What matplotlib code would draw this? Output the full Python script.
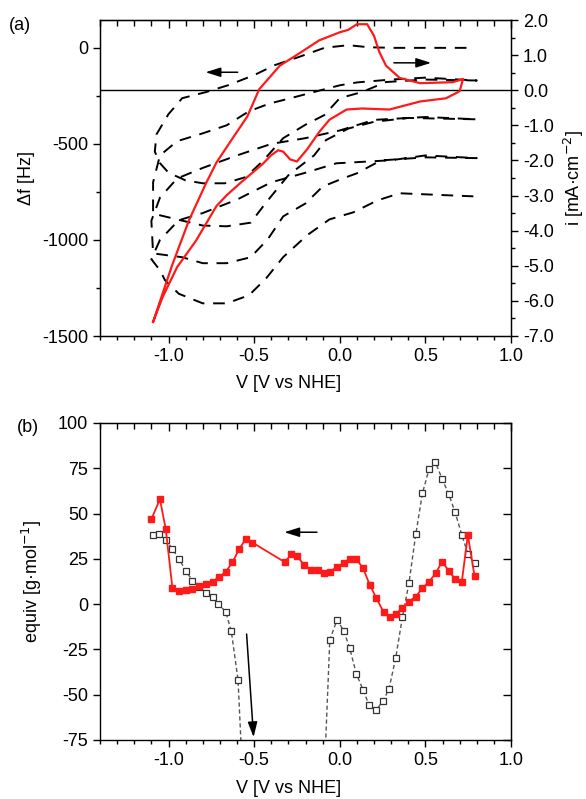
import matplotlib
matplotlib.use('Agg')
import matplotlib.pyplot as plt
from matplotlib.ticker import MultipleLocator, FormatStrFormatter

plt.rcParams['font.family'] = ['Liberation Sans', 'DejaVu Sans']
plt.rcParams['axes.unicode_minus'] = False
plt.rcParams['font.size'] = 13

# ---- panel (a): EQCM frequency change (dashed) over successive scans ----
# each scan: cathodic (upper) branch then anodic (lower) branch
up1_v = [0.74, 0.6, 0.45, 0.32, 0.17, 0.05, -0.09, -0.24, -0.38, -0.5, -0.65, -0.78, -0.92, -1.0, -1.07, -1.08]
up1_df = [0, 0, 0, 0, 3, 14, 0, -48, -90, -142, -194, -230, -262, -345, -450, -540]
lo1_v = [-1.08, -1.05, -1.0, -0.9, -0.8, -0.67, -0.55, -0.45, -0.33, -0.2, -0.09, 0.0, 0.13, 0.27, 0.5, 0.8]
lo1_df = [-540, -600, -650, -690, -705, -705, -673, -590, -470, -400, -350, -262, -230, -178, -165, -170]
up2_v = [0.8, 0.5, 0.3, 0.1, 0.0, -0.13, -0.27, -0.41, -0.53, -0.66, -0.8, -0.95, -1.05, -1.09]
up2_df = [-170, -155, -165, -180, -195, -225, -258, -290, -330, -403, -445, -486, -560, -700]
lo2_v = [-1.09, -1.09, -0.95, -0.8, -0.66, -0.52, -0.43, -0.3, -0.15, -0.08, 0.05, 0.2, 0.4, 0.8]
lo2_df = [-700, -863, -893, -925, -929, -910, -805, -663, -560, -480, -420, -385, -365, -372]
up3_v = [0.8, 0.5, 0.2, 0.0, -0.2, -0.4, -0.6, -0.8, -0.95, -1.05, -1.1]
up3_df = [-372, -360, -375, -430, -470, -500, -560, -625, -680, -780, -900]
lo3_v = [-1.1, -1.09, -0.92, -0.8, -0.66, -0.52, -0.42, -0.33, -0.2, -0.1, 0.02, 0.1, 0.24, 0.5, 0.8]
lo3_df = [-900, -1070, -1090, -1121, -1121, -1090, -996, -877, -810, -722, -679, -653, -586, -570, -574]
up4_v = [0.8, 0.5, 0.3, 0.08, -0.02, -0.2, -0.4, -0.6, -0.8, -0.94, -1.05, -1.1]
up4_df = [-574, -560, -585, -596, -601, -650, -700, -790, -860, -897, -1000, -1100]
lo4_v = [-1.1, -1.05, -1.02, -0.94, -0.8, -0.66, -0.53, -0.43, -0.33, -0.19, -0.06, 0.08, 0.22, 0.35, 0.78]
lo4_df = [-1100, -1158, -1210, -1280, -1330, -1330, -1288, -1200, -1089, -975, -893, -856, -794, -757, -773]

# cyclic voltammogram (red, right axis)
cv_v = [-1.09, -0.98, -0.88, -0.78, -0.72, -0.63, -0.54, -0.47, -0.35, -0.23, -0.12, 0.0, 0.05,
        0.1, 0.16, 0.2, 0.23, 0.27, 0.35, 0.47, 0.66, 0.72,
        0.7, 0.62, 0.47, 0.29, 0.13, 0.04, -0.06, -0.12, -0.19, -0.25, -0.29, -0.33, -0.36,
        -0.4, -0.45, -0.51, -0.58, -0.66, -0.72, -0.84, -0.95, -1.035, -1.09]
cv_i = [-6.6, -5.0, -3.7, -2.64, -2.06, -1.4, -0.75, 0.03, 0.7, 1.07, 1.42, 1.65, 1.72,
        1.88, 1.88, 1.55, 1.1, 0.7, 0.35, 0.2, 0.23, 0.32,
        -0.03, -0.23, -0.32, -0.55, -0.52, -0.55, -0.84, -1.19, -1.68, -2.03, -1.97, -1.75, -1.71,
        -1.85, -2.1, -2.35, -2.64, -2.99, -3.3, -4.29, -5.04, -5.9, -6.6]

# ---- panel (b): equivalent mass ----
red_v = [-1.10, -1.05, -1.016, -0.977, -0.938, -0.899, -0.86, -0.82, -0.782, -0.743, -0.704, -0.665,
         -0.627, -0.588, -0.549, -0.510, -0.321, -0.282, -0.25, -0.21, -0.166, -0.127, -0.093,
         -0.058, -0.016, 0.023, 0.058, 0.097, 0.136, 0.175, 0.214, 0.257, 0.292, 0.327, 0.366,
         0.404, 0.444, 0.483, 0.522, 0.561, 0.597, 0.636, 0.674, 0.713, 0.748, 0.787]
red_eq = [46.9, 57.9, 41.4, 8.8, 7.3, 7.7, 8.3, 10.0, 11.2, 12.5, 14.9, 18.0,
          23.0, 30.3, 35.9, 34.0, 23.2, 27.6, 26.8, 21.7, 18.9, 18.9, 17.4,
          18.0, 20.4, 22.6, 24.8, 24.8, 19.9, 10.7, 3.3, -4.6, -7.2, -5.4, -2.2,
          1.4, 4.2, 8.8, 12.5, 17.1, 23.5, 18.5, 13.8, 12.5, 38.2, 15.6]
open_v = [-1.09, -1.055, -1.016, -0.977, -0.938, -0.899, -0.86, -0.82, -0.782, -0.743, -0.71,
          -0.666, -0.633, -0.594, -0.555, -0.097, -0.058, -0.016, 0.023, 0.058, 0.097, 0.136,
          0.171, 0.214, 0.253, 0.288, 0.327, 0.366, 0.404, 0.444, 0.483, 0.522, 0.559, 0.597,
          0.636, 0.674, 0.713, 0.748, 0.787]
open_eq = [38.2, 38.6, 35.5, 30.5, 24.8, 18.4, 13.0, 9.4, 6.4, 4.2, 0.2,
           -4.2, -15.1, -41.8, -120, -110, -19.7, -8.7, -14.6, -24.3, -38.5, -47.3,
           -55.6, -58.3, -53.4, -46.7, -29.5, -7.2, 11.6, 38.6, 61.3, 74.7, 78.2, 69.3,
           60.9, 50.6, 38.2, 27.8, 22.6]

W, H = 586, 799
fig = plt.figure(figsize=(W / 100, H / 100), dpi=100)
axa = fig.add_axes([100 / W, 1 - 336 / H, 411 / W, 316 / H])
axb = fig.add_axes([100 / W, 1 - 740 / H, 411 / W, 317 / H])

for ax in (axa, axb):
    for s in ax.spines.values():
        s.set_linewidth(1.0)
    ax.tick_params(which='major', direction='out', length=5, width=1.0)
    ax.tick_params(which='minor', direction='out', length=3, width=1.0)
    ax.set_xlim(-1.4, 1.0)
    ax.xaxis.set_major_locator(MultipleLocator(0.5))
    ax.xaxis.set_minor_locator(MultipleLocator(0.1))
    ax.xaxis.set_major_formatter(FormatStrFormatter('%.1f'))
    top = ax.secondary_xaxis('top')
    top.xaxis.set_major_locator(MultipleLocator(0.5))
    top.xaxis.set_minor_locator(MultipleLocator(0.1))
    top.tick_params(which='major', direction='in', length=6, width=1.0, labeltop=False)
    top.tick_params(which='minor', direction='in', length=4, width=1.0)
    ax.set_xlabel('V [V vs NHE]')
    ax.xaxis.set_label_coords(0.46, -0.125)

# (a)
dash = (0, (6, 4.5))
branches = [(up1_v, up1_df), (lo1_v, lo1_df), (up2_v, up2_df), (lo2_v, lo2_df),
            (up3_v, up3_df), (lo3_v, lo3_df), (up4_v, up4_df), (lo4_v, lo4_df)]
all_v, all_df = [], []
for v, df in branches:
    all_v += v
    all_df += df
axa.plot(all_v, all_df, color='black', lw=1.4, linestyle=dash)
axa.set_ylim(-1500, 145)
axa.yaxis.set_major_locator(MultipleLocator(500))
axa.yaxis.set_minor_locator(MultipleLocator(250))
axa.set_ylabel('\u0394f [Hz]')
axa.yaxis.set_label_coords(-0.158, 0.5)

axi = axa.twinx()
axi.set_ylim(-7.0, 2.0)
axi.yaxis.set_major_locator(MultipleLocator(1.0))
axi.yaxis.set_minor_locator(MultipleLocator(0.5))
axi.yaxis.set_major_formatter(FormatStrFormatter('%.1f'))
axi.tick_params(which='major', direction='out', length=5, width=1.0)
axi.tick_params(which='minor', direction='out', length=3, width=1.0)
axi.axhline(0, color='black', lw=1.0)
axi.plot(cv_v, cv_i, color='#ff1a1a', lw=1.6)
axi.set_ylabel('i [mA\u00b7cm$^{-2}$]')
axi.yaxis.set_label_coords(1.125, 0.5)

arrow = dict(arrowstyle='-|>,head_length=0.7,head_width=0.22', color='black', lw=1.1)
axa.annotate('', xy=(-0.8, -127), xytext=(-0.58, -127), arrowprops=arrow)
axi.annotate('', xy=(0.55, 0.78), xytext=(0.3, 0.78), arrowprops=arrow)

# (b)
axb.plot(open_v, open_eq, color='#555555', lw=1.0, linestyle=(0, (3, 2)),
         marker='s', markersize=4.8, markerfacecolor='white', markeredgecolor='#333333',
         markeredgewidth=0.9)
axb.plot(red_v, red_eq, color='#ff1a1a', lw=1.3, marker='s', markersize=5,
         markerfacecolor='#ff1a1a', markeredgecolor='#ff1a1a')
axb.set_ylim(-75, 100)
axb.yaxis.set_major_locator(MultipleLocator(25))
axb.set_ylabel('equiv [g\u00b7mol$^{-1}$]')
axb.yaxis.set_label_coords(-0.136, 0.5)
right = axb.secondary_yaxis('right')
right.yaxis.set_major_locator(MultipleLocator(25))
right.tick_params(which='major', direction='in', length=6, width=1.0, labelright=False)
axb.annotate('', xy=(-0.34, 39.7), xytext=(-0.117, 39.7), arrowprops=arrow)
axb.annotate('', xy=(-0.502, -75), xytext=(-0.545, -15), arrowprops=arrow)

fig.text(9 / W, 1 - 25 / H, '(a)', fontsize=13, va='center')
fig.text(17 / W, 1 - 427 / H, '(b)', fontsize=13, va='center')

fig.savefig('out.png', dpi=100)
